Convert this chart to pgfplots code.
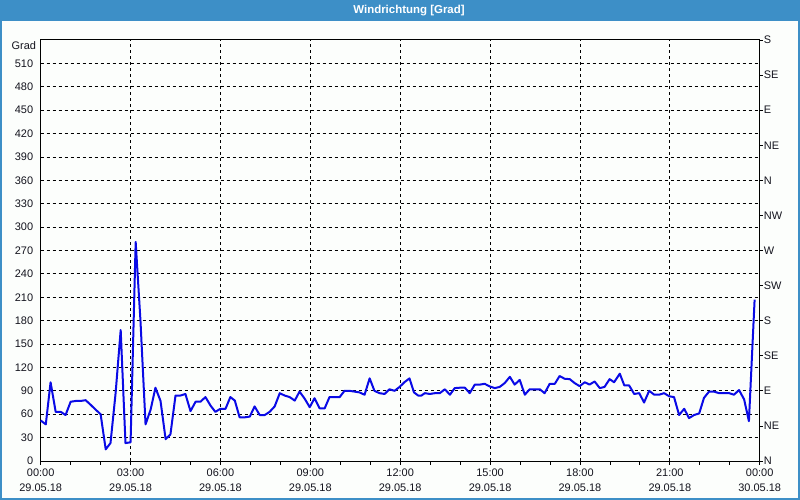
\documentclass[border=0pt]{standalone}
\usepackage{pgfplots}
\pgfplotsset{compat=1.18}
\usepackage{fontspec}
\setmainfont{Liberation Sans}
\definecolor{framebl}{RGB}{61,143,199}
\definecolor{bgc}{RGB}{252,254,252}
\definecolor{linebl}{RGB}{10,10,230}
\definecolor{txt}{RGB}{20,20,30}

\begin{document}
\begin{tikzpicture}
\useasboundingbox (0,0) rectangle (800bp,500bp);
\fill[bgc] (0,0) rectangle (800bp,500bp);
\fill[framebl] (0,479bp) rectangle (800bp,500bp);
\draw[framebl, line width=2bp] (1bp,1bp) rectangle (799bp,499bp);
\node[text=white, font=\fontsize{11.5}{13}\selectfont\bfseries] at (409bp,489.5bp) {Windrichtung [Grad]};

\begin{axis}[
  at={(40.7bp,39bp)}, anchor=south west,
  scale only axis, width=719bp, height=421bp,
  xmin=0, xmax=24, ymin=0, ymax=540,
  xtick={0,3,...,24},
  minor x tick num=2,
  xticklabels={00:00\\29.05.18,03:00\\29.05.18,06:00\\29.05.18,09:00\\29.05.18,12:00\\29.05.18,15:00\\29.05.18,18:00\\29.05.18,21:00\\29.05.18,00:00\\30.05.18},
  xticklabel style={align=center, font=\fontsize{11}{15}\selectfont, text=txt},
  ytick={0,30,...,510},
  yticklabel style={font=\fontsize{11}{13}\selectfont, text=txt},
  /pgf/number format/assume math mode=true,
  xtick pos=bottom, ytick pos=left,
  tick align=outside,
  major tick length=4bp, minor tick length=4bp,
  ytick style={draw=none},
  every tick/.style={black, line width=0.8bp},
  axis line style={black, line width=1bp},
  grid=major,
  major grid style={black, line width=0.8bp, dash pattern=on 3bp off 3bp},
  clip=false,
]
\addplot[linebl, line width=2bp, line join=round] coordinates {
(0.0,52) (0.17,47) (0.33,101) (0.5,63) (0.67,63) (0.83,59) (1.0,76) (1.17,77)
(1.33,77) (1.5,78) (1.67,72) (1.83,66) (2.0,60) (2.17,15) (2.33,23) (2.5,87)
(2.67,168) (2.83,23) (3.0,24) (3.17,281) (3.33,180) (3.5,47) (3.67,66) (3.83,94)
(4.0,77) (4.17,28) (4.33,34) (4.5,84) (4.67,84) (4.83,86) (5.0,64) (5.17,76)
(5.33,76) (5.5,82) (5.67,71) (5.83,63) (6.0,67) (6.17,67) (6.33,82)
(6.48,77.5) (6.64,56) (6.81,56) (6.98,57) (7.14,70) (7.31,59) (7.48,59) (7.64,63)
(7.81,70) (7.98,87) (8.14,84) (8.31,82) (8.48,77.5) (8.64,89) (8.81,80) (8.98,69)
(9.14,80.5) (9.31,67.6) (9.48,67.6) (9.64,82) (9.81,82) (9.98,82) (10.14,90) (10.31,90)
(10.48,89) (10.64,88) (10.81,85) (10.98,106) (11.14,90) (11.31,87) (11.48,86) (11.64,92)
(11.81,90) (11.98,95) (12.14,101) (12.31,106)
(12.46,88) (12.6,84) (12.71,84) (12.82,87) (12.99,86) (13.16,87) (13.32,87) (13.49,92)
(13.66,85) (13.82,93.5) (13.99,94) (14.16,94) (14.32,87) (14.49,98) (14.66,98) (14.82,99)
(14.99,95.6) (15.16,93.5) (15.32,95) (15.49,100) (15.66,108) (15.82,98) (15.99,104) (16.16,85)
(16.32,92) (16.49,92) (16.66,92) (16.82,87) (16.99,99) (17.16,99) (17.32,109) (17.49,105.5)
(17.66,105) (17.82,100) (17.99,96) (18.16,101) (18.32,98) (18.49,102) (18.66,93.5) (18.82,95)
(18.99,105)
(19.14,101) (19.33,112) (19.48,97) (19.64,97) (19.81,86) (19.98,87) (20.14,75) (20.31,90)
(20.48,85) (20.64,85) (20.81,87) (20.98,83) (21.14,82) (21.31,59) (21.48,67) (21.64,55)
(21.81,59) (21.98,61) (22.14,81) (22.31,89) (22.48,89) (22.64,87) (22.81,87) (22.98,87)
(23.14,85) (23.31,91) (23.48,79) (23.64,51) (23.83,207)
};
\node[anchor=north east, inner sep=0pt, text=txt, font=\fontsize{11}{13}\selectfont]
  at (rel axis cs:0,1) [xshift=-4.5bp, yshift=-1.5bp] {Grad};
\end{axis}

\begin{axis}[
  at={(40.7bp,39bp)}, anchor=south west,
  scale only axis, width=719bp, height=421bp,
  xmin=0, xmax=24, ymin=0, ymax=540,
  axis x line=none, axis y line*=right,
  ytick={0,45,...,540},
  yticklabels={N,NE,E,SE,S,SW,W,NW,N,NE,E,SE,S},
  yticklabel style={font=\fontsize{11}{13}\selectfont, text=txt, inner sep=1bp},
  tick align=outside, major tick length=3bp,
  every tick/.style={black, line width=0.8bp},
  axis line style={black, line width=1bp},
]
\addplot[draw=none] coordinates {(0,0)};
\end{axis}
\end{tikzpicture}
\end{document}
